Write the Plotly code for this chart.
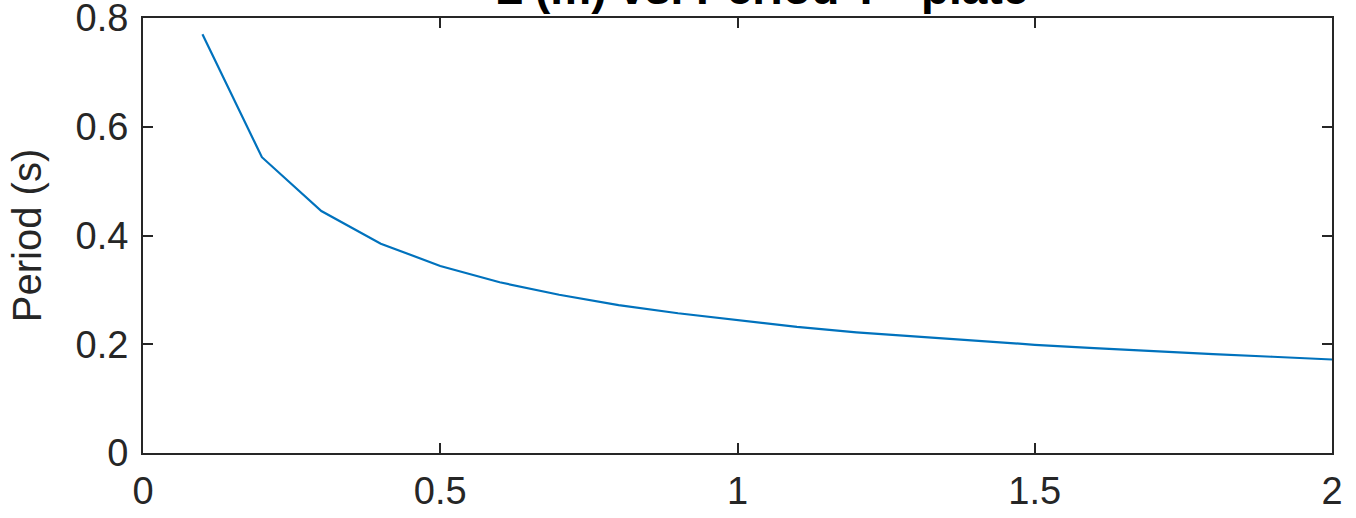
import plotly.graph_objects as go

x_vals = [0.1, 0.2, 0.3, 0.4, 0.5, 0.6, 0.7, 0.8, 0.9, 1.0,
          1.1, 1.2, 1.3, 1.4, 1.5, 1.6, 1.7, 1.8, 1.9, 2.0]
period = [0.770, 0.544, 0.445, 0.385, 0.344, 0.314, 0.291, 0.272, 0.257, 0.244,
          0.232, 0.222, 0.214, 0.206, 0.199, 0.193, 0.187, 0.182, 0.177, 0.172]
x_ticks = [0, 0.5, 1, 1.5, 2]
x_tick_text = ["0", "0.5", "1", "1.5", "2"]
y_ticks = [0, 0.2, 0.4, 0.6, 0.8]
y_tick_text = ["0", "0.2", "0.4", "0.6", "0.8"]
title_text = "L (m) vs. Period T - plate"

axis_color = "#262626"
fam = "Liberation Sans, Arial, sans-serif"
tick_font = dict(family=fam, size=38, color=axis_color)
label_font = dict(family=fam, size=40, color=axis_color)

fig = go.Figure()
fig.add_trace(go.Scatter(x=x_vals, y=period, mode="lines",
                         line=dict(color="#0072BD", width=2.2), showlegend=False))

fig.update_layout(
    width=1356, height=518,
    margin=dict(l=143, r=24, t=18, b=65),
    paper_bgcolor="white", plot_bgcolor="white",
    font=tick_font,
)
fig.update_xaxes(range=[0, 2], tickvals=x_ticks, ticktext=x_tick_text,
                 showgrid=False, zeroline=False, showline=True, mirror="ticks",
                 linecolor=axis_color, linewidth=2, ticks="inside", ticklen=10,
                 tickwidth=2, tickcolor=axis_color, tickfont=tick_font,
                 ticklabeloverflow="allow", ticklabelstandoff=3,
                 automargin=False)
fig.update_yaxes(range=[0, 0.8], tickvals=y_ticks, ticktext=y_tick_text,
                 showgrid=False, zeroline=False, showline=True, mirror="ticks",
                 linecolor=axis_color, linewidth=2, ticks="inside", ticklen=10,
                 tickwidth=2, tickcolor=axis_color, tickfont=tick_font,
                 ticklabeloverflow="allow", ticklabelstandoff=5,
                 title=dict(text="Period (s)", font=label_font, standoff=22),
                 automargin=False)
fig.add_annotation(text="<b>" + title_text + "</b>", xref="paper", yref="paper",
                   x=0.52, y=1, xanchor="center", yanchor="bottom", yshift=2,
                   showarrow=False, font=dict(family=fam, size=46, color="#000000"))

fig.write_html("out.html")
